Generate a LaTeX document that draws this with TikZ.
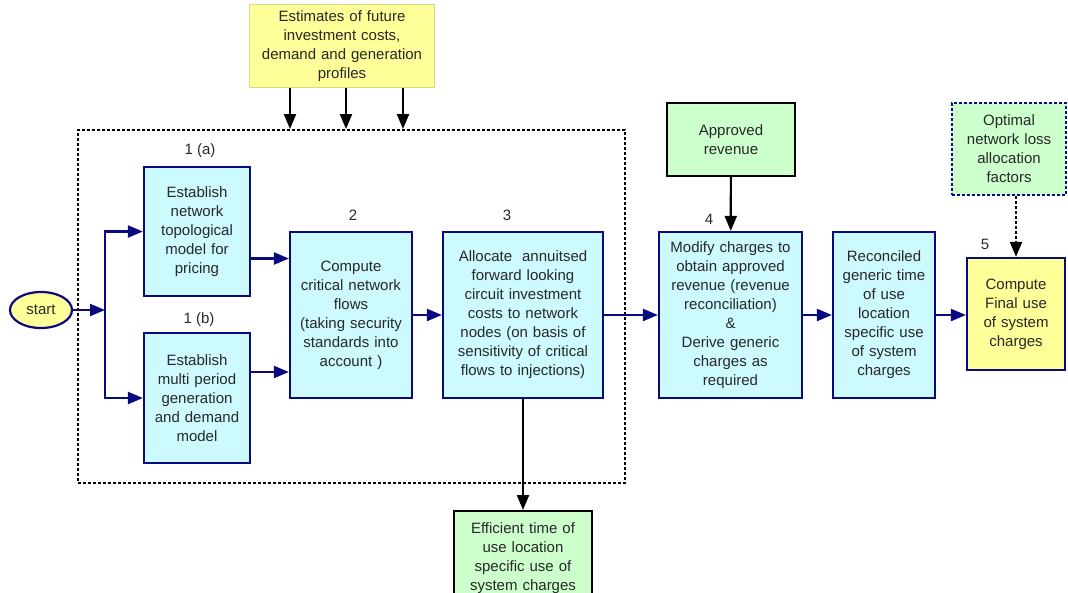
\documentclass[tikz,border=0pt]{standalone}
\usepackage{fontspec}
\setmainfont{Liberation Sans}
\usepackage{tikz}
\usetikzlibrary{arrows.meta,shapes.geometric}
\definecolor{navy}{RGB}{10,10,128}
\definecolor{boxblue}{RGB}{204,250,255}
\definecolor{boxyellow}{RGB}{255,255,153}
\definecolor{boxgreen}{RGB}{204,255,204}
\definecolor{txt}{RGB}{40,40,40}

\begin{document}
\begin{tikzpicture}[x=1pt, y=-1pt, font=\fontsize{15}{19}\selectfont,
  every node/.style={text=txt},
  procbox/.style={draw=navy, line width=2.2pt, fill=boxblue, align=center, inner sep=4pt},
  inbox/.style={draw=black, line width=2.2pt, fill=boxgreen, align=center, inner sep=4pt},
  tag/.style={inner sep=0pt},
  flow/.style={draw=navy, line width=2.2pt, -{Triangle[length=15pt,width=12pt]}},
  feed/.style={draw=black, line width=2.2pt, -{Triangle[length=15pt,width=12pt]}}]
	\useasboundingbox (0,0) rectangle (1068,592);

	% frame round the pricing steps
	\node[draw, dash pattern=on 3pt off 2pt, line width=2pt, minimum width=547pt, minimum height=353pt, inner sep=0pt] (frame) at (351.5,306.5) {};

	\node[fill=boxyellow, draw=boxyellow!85!black, line width=0.4pt, align=center, text width=177pt, minimum height=83pt, inner sep=4pt] (est) at (342,46) {Estimates of future\\ investment costs,\\ demand and generation\\ profiles};
	\node[ellipse, draw=navy, line width=2.2pt, fill=boxyellow, minimum width=62pt, minimum height=36pt, inner sep=0pt] (start) at (41,310) {start};

	\node[procbox, text width=98pt, minimum height=129pt] (b1a) at (197,231.5) {Establish\\ network\\ topological\\ model for\\ pricing};
	\node[procbox, text width=98pt, minimum height=130pt] (b1b) at (197,398) {Establish\\ multi period\\ generation\\ and demand\\ model};
	\node[procbox, text width=114pt, minimum height=166pt] (b2) at (351,315) {Compute\\ critical network\\ flows\\ (taking security\\ standards into\\ account )};
	\node[procbox, text width=152pt, minimum height=166pt] (b3) at (523,315) {Allocate~ annuitsed\\ forward looking\\ circuit investment\\ costs to network\\ nodes (on basis of\\ sensitivity of critical\\ flows to injections)};
	\node[procbox, text width=135pt, minimum height=166pt] (b4) at (730.5,315) {Modify charges to\\ obtain approved\\ revenue (revenue\\ reconciliation)\\ \&\\ Derive generic\\ charges as\\ required};
	\node[procbox, text width=94pt, minimum height=166pt] (b4r) at (884,315) {Reconciled\\ generic time\\ of use\\ location\\ specific use\\ of system\\ charges};
	\node[procbox, fill=boxyellow, text width=90pt, minimum height=112pt] (b5) at (1016,314) {Compute\\ Final use\\ of system\\ charges};

	\node[inbox, text width=120pt, minimum height=73pt] (rev) at (731,139.5) {Approved\\ revenue};
	\node[inbox, draw=navy, dash pattern=on 3pt off 2pt, text width=106pt, minimum height=92pt] (loss) at (1009,149) {Optimal\\ network loss\\ allocation\\ factors};
	\node[inbox, anchor=north, text width=130pt, minimum height=95pt] (eff) at (523,510) {Efficient time of\\ use location\\ specific use of\\ system charges};

	% step numbers
	\node[tag] (t1a) at (200,151) {1 (a)};
	\node[tag] (t1b) at (199,320) {1 (b)};
	\node[tag] (t2) at (353,215) {2};
	\node[tag] (t3) at (507,215) {3};
	\node[tag] (t4) at (709,219) {4};
	\node[tag] (t5) at (985,244) {5};

	% connectors
	\coordinate (split) at (105,310);
	\draw[flow] (start.east) -- (split);
	\draw[flow] (split) |- (b1a.west);
	\draw[flow] (split) |- (b1b.west);
	\coordinate (o1a) at ([yshift=-27pt]b1a.east);
	\coordinate (o1b) at ([yshift=26pt]b1b.east);
	\draw[flow] (o1a) -- (o1a -| b2.west);
	\draw[flow] (o1b) -- (o1b -| b2.west);
	\draw[flow] (b2.east) -- (b3.west);
	\draw[flow] (b3.east) -- (b4.west);
	\draw[flow] (b4.east) -- (b4r.west);
	\draw[flow] (b4r.east) -- (b4r.east -| b5.west);
	\draw[feed] (rev) -- (b4);
	\draw[feed, dash pattern=on 3pt off 2pt] (loss.south -| b5.north) -- (b5.north);
	\draw[feed] (b3) -- (eff);
	\foreach \dx in {-52,4,61} {
		\coordinate (e) at ([xshift=\dx pt]est.south);
		\draw[feed] (e) -- (e |- frame.north);
	}
\end{tikzpicture}
\end{document}
